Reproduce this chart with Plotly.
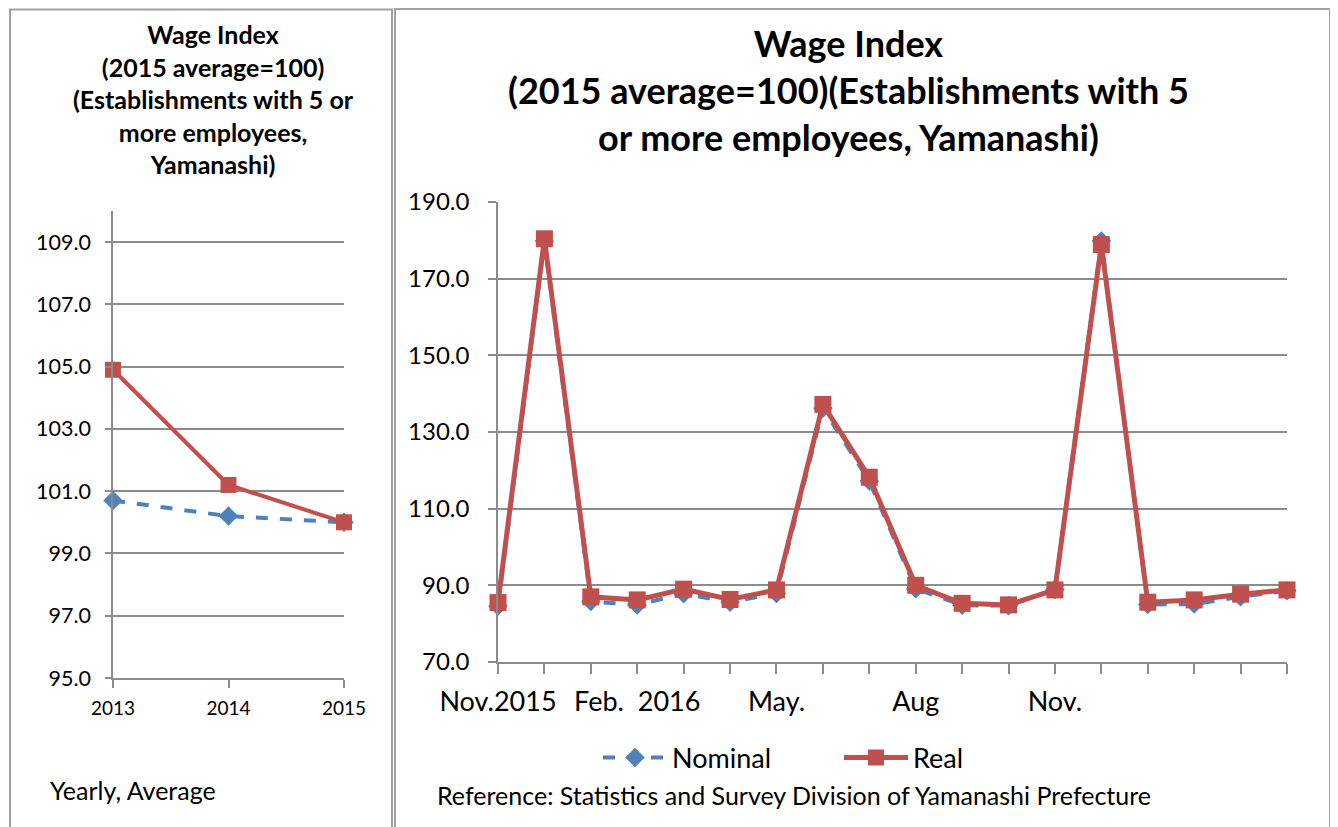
import plotly.graph_objects as go

# ---- data ----
years = ["2013", "2014", "2015"]
yearly_nominal = [100.7, 100.2, 100.0]
yearly_real = [104.9, 101.2, 100.0]

months = ["2015-11", "2015-12", "2016-01", "2016-02", "2016-03", "2016-04",
          "2016-05", "2016-06", "2016-07", "2016-08", "2016-09", "2016-10",
          "2016-11", "2016-12", "2017-01", "2017-02", "2017-03", "2017-04"]
month_labels = ["Nov.2015", "", "", "Feb.\u00a0\u00a02016", "", "", "May.", "", "",
                "Aug", "", "", "Nov.", "", "", "", "", ""]
monthly_nominal = [84.6, 179.8, 85.8, 84.9, 87.8, 85.6, 87.9, 136.2, 117.2, 89.1,
                   84.8, 84.7, 88.9, 179.8, 85.0, 85.1, 87.0, 88.6]
monthly_real = [85.5, 180.4, 87.0, 86.2, 89.0, 86.3, 88.8, 137.2, 118.2, 90.0,
                85.3, 84.9, 88.8, 178.9, 85.6, 86.2, 87.7, 88.8]

left_y_ticks = [95, 97, 99, 101, 103, 105, 107, 109]
right_y_ticks = [70, 90, 110, 130, 150, 170, 190]

BLUE = "#4F81BD"
RED = "#C0504D"
GRID = "#8C8C8C"
FONT = "Lato"
W, H = 1338, 827
OFF = 8  # page body margin


def px(x):
    return (x - OFF) / W


def py(y):
    return 1 - (y - OFF) / H


fig = go.Figure()

# left panel
fig.add_trace(go.Scatter(x=years, y=yearly_nominal, name="Nominal", mode="lines+markers",
                         line=dict(color=BLUE, width=4, dash="dash"),
                         marker=dict(symbol="diamond", size=15, color=BLUE),
                         xaxis="x", yaxis="y", showlegend=False, cliponaxis=False))
fig.add_trace(go.Scatter(x=years, y=yearly_real, name="Real", mode="lines+markers",
                         line=dict(color=RED, width=4),
                         marker=dict(symbol="square", size=16, color=RED),
                         xaxis="x", yaxis="y", showlegend=False, cliponaxis=False))

# right panel
fig.add_trace(go.Scatter(x=months, y=monthly_nominal, name="Nominal", mode="lines+markers",
                         line=dict(color=BLUE, width=4, dash="dash"),
                         marker=dict(symbol="diamond", size=15, color=BLUE),
                         xaxis="x2", yaxis="y2", cliponaxis=False))
fig.add_trace(go.Scatter(x=months, y=monthly_real, name="Real", mode="lines+markers",
                         line=dict(color=RED, width=5),
                         marker=dict(symbol="square", size=17, color=RED),
                         xaxis="x2", yaxis="y2", cliponaxis=False))

axis_common = dict(showline=True, linecolor=GRID, linewidth=1.5, gridcolor=GRID,
                   gridwidth=1.5, zeroline=False, ticks="outside", tickcolor=GRID,
                   tickwidth=1.5, automargin=False)

fig.update_layout(
    template="none",
    width=W, height=H, margin=dict(l=0, r=0, t=0, b=0, autoexpand=False),
    paper_bgcolor="white", plot_bgcolor="white",
    font=dict(family=FONT, color="black"),
    xaxis=dict(domain=[px(113), px(344)], anchor="y", type="category",
               range=[0, 2], showgrid=False, tickfont=dict(size=19), ticklen=8,
               ticklabelstandoff=4, **axis_common),
    yaxis=dict(domain=[py(678), py(211)], anchor="x", range=[95, 110],
               tickvals=left_y_ticks, tickformat=".1f", tickfont=dict(size=21.5),
               showgrid=True, ticklen=6, ticklabelstandoff=10, **axis_common),
    xaxis2=dict(domain=[px(498), px(1287)], anchor="y2", type="category",
                range=[0, 17], tickvals=months, ticktext=month_labels, showgrid=False,
                tickfont=dict(size=27), ticklen=10, ticklabelstandoff=5, **axis_common),
    yaxis2=dict(domain=[py(662), py(202)], anchor="x2", range=[70, 190],
                tickvals=right_y_ticks, tickformat=".1f", tickfont=dict(size=24),
                showgrid=True, ticklen=8, ticklabelstandoff=14, **axis_common),
    legend=dict(orientation="h", x=px(598), y=py(758), xanchor="left", yanchor="middle",
                font=dict(size=27), itemwidth=64, tracegroupgap=0,
                entrywidth=162, bgcolor="rgba(0,0,0,0)"),
    showlegend=True,
)

# panel borders
fig.add_shape(type="rect", xref="paper", yref="paper", x0=px(10), x1=px(392),
              y0=py(840), y1=py(9.5), line=dict(color="#A0A0A0", width=2))
fig.add_shape(type="rect", xref="paper", yref="paper", x0=px(395), x1=px(1330),
              y0=py(840), y1=py(9), line=dict(color="#A0A0A0", width=2))

# titles
fig.add_annotation(xref="paper", yref="paper", x=px(213), y=py(99), showarrow=False,
                   xanchor="center", yanchor="middle", align="center",
                   text="<b>Wage Index<br>(2015 average=100)<br>(Establishments with 5 or<br>more employees,<br>Yamanashi)</b>",
                   font=dict(size=25, family=FONT))
fig.add_annotation(xref="paper", yref="paper", x=px(848), y=py(90), showarrow=False,
                   xanchor="center", yanchor="middle", align="center",
                   text="<b>Wage Index<br>(2015 average=100)(Establishments with 5<br>or more employees, Yamanashi)</b>",
                   font=dict(size=36, family=FONT))

fig.add_annotation(xref="paper", yref="paper", x=px(48), y=py(790), showarrow=False,
                   xanchor="left", yanchor="middle", text="Yearly, Average",
                   font=dict(size=25, family=FONT))
fig.add_annotation(xref="paper", yref="paper", x=px(435), y=py(795), showarrow=False,
                   xanchor="left", yanchor="middle",
                   text="Reference: Statistics and Survey Division of Yamanashi Prefecture",
                   font=dict(size=25, family=FONT))

fig.write_html("out.html")
